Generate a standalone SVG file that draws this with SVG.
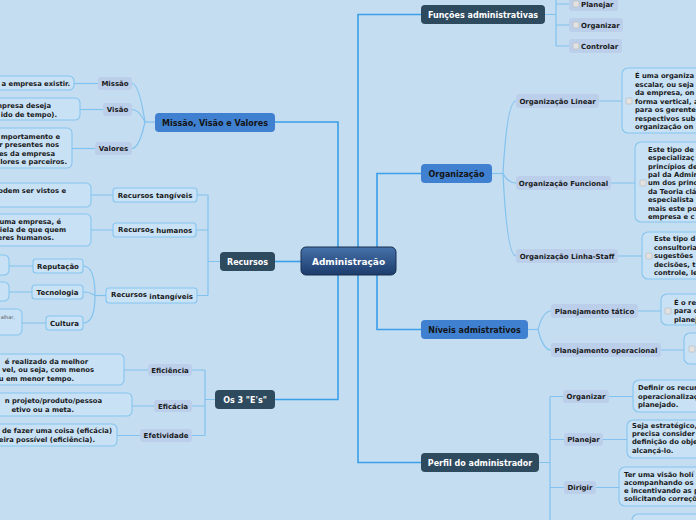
<svg xmlns="http://www.w3.org/2000/svg" width="696" height="520" viewBox="0 0 696 520">
<defs>
<linearGradient id="cg" x1="0" y1="0" x2="0" y2="1">
<stop offset="0" stop-color="#4572ab"/>
<stop offset="1" stop-color="#1c3b6b"/>
</linearGradient>
<style>
text{font-family:"DejaVu Sans",Verdana,sans-serif;font-weight:bold;}
.dark{fill:#2e4a5e;}
.mid{fill:#3f80d0;}
.mt{font-size:8px;fill:#fff;text-anchor:middle;}
.mtd{font-size:8px;fill:#141414;text-anchor:middle;}
.ch{fill:#bbcfeb;}
.chb{fill:#c9e2f5;stroke:#86c5ef;stroke-width:1.1;}
.ct{font-size:7px;fill:#1a1a1a;text-anchor:middle;}
.cl{font-size:7px;fill:#1a1a1a;}
.desc{fill:#c8e1f5;stroke:#86c5ef;stroke-width:1.1;}
.dt{font-size:6.8px;fill:#1a1a1a;}
.de{font-size:6.8px;fill:#1a1a1a;text-anchor:end;}
.cb{fill:#e2e2e2;stroke:#b8b8b8;stroke-width:0.6;}
.main{fill:none;stroke:#3a9ee8;stroke-width:1.6;}
.sub{fill:none;stroke:#82c2ee;stroke-width:1.2;}
</style>
</defs>
<rect x="0" y="0" width="696" height="520" fill="#c4ddf1"/>

<g id="connectors">
<path class="main" d="M338,247 V122 H275"/>
<path class="main" d="M358,247 V14.5 H421"/>
<path class="main" d="M377,247 V173.5 H421"/>
<path class="main" d="M301,261.5 H275"/>
<path class="main" d="M338,275 V399.5 H275"/>
<path class="main" d="M358,275 V462.5 H421"/>
<path class="main" d="M377,275 V329.5 H421"/>

<path class="sub" d="M155,122 H145"/>
<path class="sub" d="M145,122 Q139,83.5 132,83.5"/>
<path class="sub" d="M145,122 Q139,109.5 132,109.5"/>
<path class="sub" d="M145,122 Q139,148.5 132,148.5"/>
<path class="sub" d="M98,83.5 H74"/>
<path class="sub" d="M103,109.5 H80"/>
<path class="sub" d="M95,148.5 H72"/>

<path class="sub" d="M220,261.5 H208 M208,195 V295.5 M208,195 H197 M208,230 H196 M208,295.5 H197"/>
<path class="sub" d="M113,195 H91 M113,230 H91"/>
<path class="sub" d="M106,295.5 H95"/>
<path class="sub" d="M95,295.5 Q95,266 83,266"/>
<path class="sub" d="M95,295.5 Q90,292 83,292"/>
<path class="sub" d="M95,295.5 Q95,323 83,323"/>
<path class="sub" d="M33,266 H9 M32,292 H9 M46,323 H22"/>

<path class="sub" d="M215,399.5 H205 M205,370 V435.5 M205,370 H192 M205,406 H192 M205,435.5 H192"/>
<path class="sub" d="M148,370 H124 M154,406 H132 M140,435.5 H117"/>

<path class="sub" d="M545,14.5 H556 M556,-2 V46 M556,4 H569 M556,25 H569 M556,46 H569"/>
<path class="sub" d="M492,173.5 H503"/>
<path class="sub" d="M503,173.5 Q507,101 516,101"/>
<path class="sub" d="M503,173.5 Q508,183 516,183"/>
<path class="sub" d="M503,173.5 Q507,256 516,256"/>
<path class="sub" d="M599,101 H622 M611,183 H635 M618,256 H642"/>

<path class="sub" d="M528,329.5 H538"/>
<path class="sub" d="M538,329.5 Q543,311 551,311"/>
<path class="sub" d="M538,329.5 Q543,350 551,350"/>
<path class="sub" d="M638,311 H661 M661,350 H684"/>

<path class="sub" d="M539,462.5 H550 M550,396.5 V520 M550,396.5 H563 M550,439.5 H564 M550,487.5 H564"/>
<path class="sub" d="M609,396.5 H633 M603,439.5 H627 M596,487.5 H619"/>
</g>

<g id="n-admin">
<rect x="301" y="247" width="95" height="28" rx="5" fill="url(#cg)" stroke="#1a2f50" stroke-width="1"/>
<text x="348.5" y="264.5" style="font-size:9px;fill:#fff;text-anchor:middle;">Administração</text>
</g>

<g id="n-funcoes">
<rect class="dark" x="421" y="5" width="124" height="19" rx="4"/>
<text class="mt" x="483" y="17.5">Funções administrativas</text>
</g>
<g id="n-f-planejar">
<rect class="ch" x="569" y="-3" width="49" height="14" rx="3"/>
<rect class="cb" x="573" y="1" width="6" height="6" rx="1"/>
<text class="cl" x="581" y="6.5">Planejar</text>
</g>
<g id="n-f-organizar">
<rect class="ch" x="569" y="18" width="54" height="14" rx="3"/>
<rect class="cb" x="573" y="22" width="6" height="6" rx="1"/>
<text class="cl" x="581" y="27.5">Organizar</text>
</g>
<g id="n-f-controlar">
<rect class="ch" x="569" y="39" width="53" height="14" rx="3"/>
<rect class="cb" x="573" y="43" width="6" height="6" rx="1"/>
<text class="cl" x="581" y="48.5">Controlar</text>
</g>

<g id="n-organizacao">
<rect class="mid" x="421" y="164" width="71" height="19" rx="4"/>
<text class="mtd" x="456.5" y="176.5">Organização</text>
</g>
<g id="n-org-linear">
<rect class="ch" x="516" y="94" width="83" height="14" rx="3"/>
<text class="ct" x="557.5" y="103.5">Organização Linear</text>
</g>
<g id="n-org-funcional">
<rect class="ch" x="516" y="176" width="95" height="14" rx="3"/>
<text class="ct" x="563.5" y="185.5">Organização Funcional</text>
</g>
<g id="n-org-staff">
<rect class="ch" x="516" y="249" width="102" height="14" rx="3"/>
<text class="ct" x="567" y="258.5">Organização Linha-Staff</text>
</g>
<g id="d-org-linear">
<rect class="desc" x="622" y="68" width="100" height="65" rx="6"/>
<rect class="cb" x="626" y="98" width="6" height="6" rx="1"/>
<text class="dt" x="635" y="78">É uma organiza</text>
<text class="dt" x="635" y="86.5">escalar, ou seja</text>
<text class="dt" x="635" y="95">da empresa, on</text>
<text class="dt" x="635" y="103.5">forma vertical, a</text>
<text class="dt" x="635" y="112">para os gerente</text>
<text class="dt" x="635" y="120.5">respectivos sub</text>
<text class="dt" x="635" y="129">organização on</text>
</g>
<g id="d-org-funcional">
<rect class="desc" x="635" y="142" width="100" height="80" rx="6"/>
<rect class="cb" x="640" y="180" width="6" height="6" rx="1"/>
<text class="dt" x="648" y="151.8">Este tipo de</text>
<text class="dt" x="648" y="160.2">especializaç</text>
<text class="dt" x="648" y="168.6">princípios de</text>
<text class="dt" x="648" y="177">pal da Admini</text>
<text class="dt" x="648" y="185.4">um dos princ</text>
<text class="dt" x="648" y="193.8">da Teoria clá</text>
<text class="dt" x="648" y="202.2">especialista</text>
<text class="dt" x="648" y="210.6">mais este po</text>
<text class="dt" x="648" y="219">empresa e c</text>
</g>
<g id="d-org-staff">
<rect class="desc" x="642" y="232" width="100" height="47" rx="6"/>
<rect class="cb" x="646" y="253" width="6" height="6" rx="1"/>
<text class="dt" x="654" y="241">Este tipo d</text>
<text class="dt" x="654" y="249.5">consultoria</text>
<text class="dt" x="654" y="258">sugestões</text>
<text class="dt" x="654" y="266.5">decisões, t</text>
<text class="dt" x="654" y="275">controle, le</text>
</g>

<g id="n-niveis">
<rect class="mid" x="421" y="320" width="107" height="19" rx="4"/>
<text class="mtd" x="474.5" y="332.5">Níveis admistrativos</text>
</g>
<g id="n-tatico">
<rect class="ch" x="551" y="304" width="87" height="14" rx="3"/>
<text class="ct" x="594.5" y="313.5">Planejamento tático</text>
</g>
<g id="n-operacional">
<rect class="ch" x="551" y="343" width="110" height="14" rx="3"/>
<text class="ct" x="606" y="352.5">Planejamento operacional</text>
</g>
<g id="d-tatico">
<rect class="desc" x="661" y="294" width="80" height="31" rx="6"/>
<rect class="cb" x="665" y="308" width="6" height="6" rx="1"/>
<text class="dt" x="674" y="304.8">É o re</text>
<text class="dt" x="674" y="313.2">para c</text>
<text class="dt" x="674" y="321.8">planej</text>
</g>
<g id="d-operacional">
<rect class="desc" x="684" y="333" width="50" height="31" rx="6"/>
<rect class="cb" x="689" y="346" width="6" height="6" rx="1"/>
</g>

<g id="n-perfil">
<rect class="dark" x="421" y="453" width="118" height="19" rx="4"/>
<text class="mt" x="480" y="465.5">Perfil do administrador</text>
</g>
<g id="n-p-organizar">
<rect class="ch" x="563" y="390" width="46" height="13" rx="3"/>
<text class="ct" x="586" y="399">Organizar</text>
</g>
<g id="n-p-planejar">
<rect class="ch" x="564" y="433" width="39" height="13" rx="3"/>
<text class="ct" x="583.5" y="442">Planejar</text>
</g>
<g id="n-p-dirigir">
<rect class="ch" x="564" y="481" width="32" height="13" rx="3"/>
<text class="ct" x="580" y="490">Dirigir</text>
</g>
<g id="d-p-organizar">
<rect class="desc" x="633" y="380" width="100" height="32" rx="6"/>
<text class="dt" x="638" y="390">Definir os recur</text>
<text class="dt" x="638" y="398.5">operacionalizaç</text>
<text class="dt" x="638" y="407">planejado.</text>
</g>
<g id="d-p-planejar">
<rect class="desc" x="627" y="420" width="100" height="38" rx="6"/>
<text class="dt" x="632" y="428">Seja estratégico,</text>
<text class="dt" x="632" y="436.2">precisa consider</text>
<text class="dt" x="632" y="444.4">definição do obje</text>
<text class="dt" x="632" y="452.6">alcançá-lo.</text>
</g>
<g id="d-p-dirigir">
<rect class="desc" x="619" y="467" width="100" height="39" rx="6"/>
<text class="dt" x="624" y="476.5">Ter uma visão holí</text>
<text class="dt" x="624" y="484.5">acompanhando os</text>
<text class="dt" x="624" y="492.5">e incentivando as p</text>
<text class="dt" x="624" y="500.8">solicitando correçõ</text>
</g>
<g id="d-p-next">
<rect class="desc" x="632" y="514" width="100" height="30" rx="6"/>
</g>

<g id="n-mvv">
<rect class="mid" x="155" y="113" width="120" height="19" rx="4"/>
<text class="mtd" x="215" y="125.5">Missão, Visão e Valores</text>
</g>
<g id="n-missao">
<rect class="ch" x="98" y="77" width="34" height="13" rx="3"/>
<text class="ct" x="115" y="86">Missão</text>
</g>
<g id="n-visao">
<rect class="ch" x="103" y="103" width="29" height="13" rx="3"/>
<text class="ct" x="117.5" y="112">Visão</text>
</g>
<g id="n-valores">
<rect class="ch" x="95" y="142" width="37" height="13" rx="3"/>
<text class="ct" x="113.5" y="151">Valores</text>
</g>
<g id="d-missao">
<rect class="desc" x="-20" y="76" width="94" height="14" rx="5"/>
<text class="de" x="70" y="85.5">a empresa existir.</text>
</g>
<g id="d-visao">
<rect class="desc" x="-20" y="98" width="100" height="22" rx="5"/>
<text class="de" x="51" y="108.2">mpresa deseja</text>
<text class="de" x="57" y="116.5">ido de tempo).</text>
</g>
<g id="d-valores">
<rect class="desc" x="-20" y="128" width="92" height="40" rx="5"/>
<text class="de" x="60" y="138.5">mportamento e</text>
<text class="de" x="59" y="147">r presentes nos</text>
<text class="de" x="55" y="155.5">es da empresa</text>
<text class="de" x="67" y="164">lores e parceiros.</text>
</g>

<g id="n-recursos">
<rect class="dark" x="220" y="252" width="55" height="19" rx="4"/>
<text class="mt" x="247.5" y="264.5">Recursos</text>
</g>
<g id="n-tangiveis">
<rect class="chb" x="113" y="188" width="84" height="14" rx="3"/>
<text class="ct" x="155" y="197.5">Recursos tangíveis</text>
</g>
<g id="n-humanos">
<rect class="chb" x="113" y="223" width="83" height="14" rx="3"/>
<text class="cl" x="118" y="231.5">Recurso<tspan dy="1.8">s humanos</tspan></text>
</g>
<g id="n-intangiveis">
<rect class="chb" x="106" y="288" width="91" height="15" rx="3"/>
<text class="cl" x="111" y="297">Recursos<tspan dy="1.8"> intangíveis</tspan></text>
</g>
<g id="n-reputacao">
<rect class="chb" x="33" y="259" width="50" height="14" rx="3"/>
<text class="ct" x="58" y="268.5">Reputação</text>
</g>
<g id="n-tecnologia">
<rect class="chb" x="32" y="285" width="51" height="14" rx="3"/>
<text class="ct" x="57.5" y="294.5">Tecnologia</text>
</g>
<g id="n-cultura">
<rect class="chb" x="46" y="316" width="37" height="14" rx="3"/>
<text class="ct" x="64.5" y="325.5">Cultura</text>
</g>
<g id="d-tangiveis">
<rect class="desc" x="-20" y="183" width="111" height="24" rx="5"/>
<text class="de" x="66" y="193.2">odem ser vistos e</text>
</g>
<g id="d-humanos">
<rect class="desc" x="-20" y="214" width="111" height="32" rx="5"/>
<text class="de" x="61" y="224.2">uma empresa, é</text>
<text class="de" x="66" y="231.8">iela de que quem</text>
<text class="de" x="54" y="240.2">eres humanos.</text>
</g>
<g id="d-reputacao">
<rect class="desc" x="-20" y="255" width="29" height="20" rx="5"/>
</g>
<g id="d-tecnologia">
<rect class="desc" x="-20" y="282" width="29" height="19" rx="5"/>
</g>
<g id="d-cultura">
<rect class="desc" x="-20" y="309" width="42" height="26" rx="5"/>
<text x="15" y="319" style="font-size:5px;font-weight:normal;fill:#555;text-anchor:end;">alhar,</text>
</g>

<g id="n-3es">
<rect class="dark" x="215" y="390" width="60" height="19" rx="4"/>
<text class="mt" x="245" y="402.5">Os 3 "E's"</text>
</g>
<g id="n-eficiencia">
<rect class="ch" x="148" y="364" width="44" height="12" rx="3"/>
<text class="ct" x="170" y="372.5">Eficiência</text>
</g>
<g id="n-eficacia">
<rect class="ch" x="154" y="400" width="38" height="12" rx="3"/>
<text class="ct" x="173" y="408.5">Eficácia</text>
</g>
<g id="n-efetividade">
<rect class="ch" x="140" y="429" width="52" height="13" rx="3"/>
<text class="ct" x="166" y="438">Efetividade</text>
</g>
<g id="d-eficiencia">
<rect class="desc" x="-20" y="354" width="144" height="31" rx="5"/>
<text class="de" x="88" y="363.5">é realizado da melhor</text>
<text class="de" x="94" y="371.8">vel, ou seja, com menos</text>
<text class="de" x="74" y="380.8">u em menor tempo.</text>
</g>
<g id="d-eficacia">
<rect class="desc" x="-20" y="393" width="152" height="23" rx="5"/>
<text class="de" x="102" y="403.2">n projeto/produto/pessoa</text>
<text class="de" x="74" y="411.8">etivo ou a meta.</text>
</g>
<g id="d-efetividade">
<rect class="desc" x="-20" y="424" width="137" height="22" rx="5"/>
<text class="de" x="112" y="433.2">de fazer uma coisa (eficácia)</text>
<text class="de" x="95" y="441.8">eira possível (eficiência).</text>
</g>
</svg>
